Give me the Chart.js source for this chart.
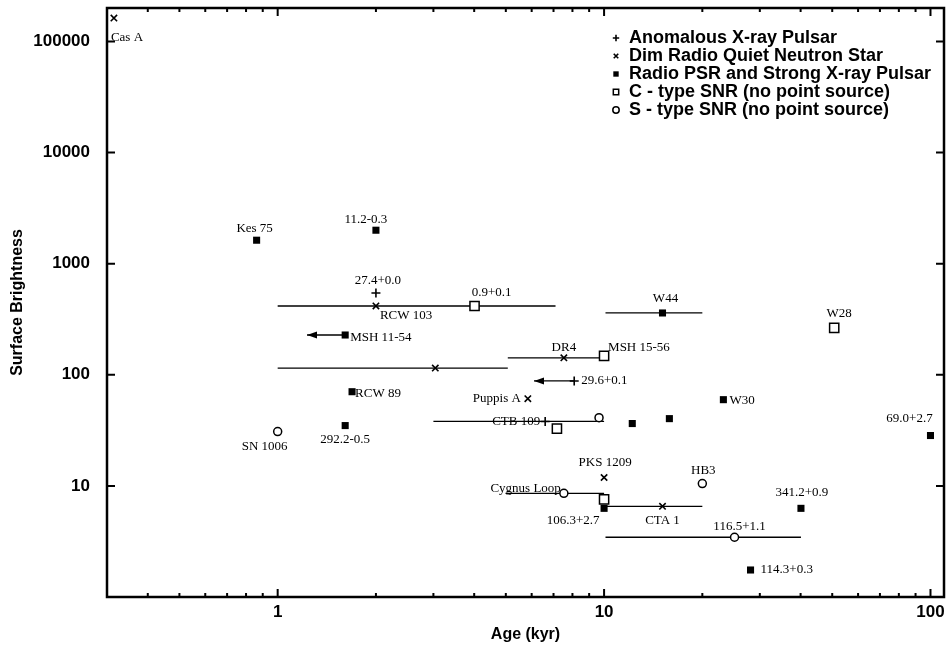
<!DOCTYPE html>
<html>
<head>
<meta charset="utf-8">
<title>Surface brightness vs age</title>
<script src="https://cdn.jsdelivr.net/npm/chart.js@4.4.1/dist/chart.umd.min.js"></script>
<style>
  html, body { margin: 0; padding: 0; background: #fff; }
  #wrap { width: 952px; height: 648px; }
</style>
</head>
<body>
<div id="wrap"><canvas id="sb-chart" width="952" height="648"></canvas></div>
<script>
// values: age in kyr, surface brightness (log-log)

// Anomalous X-ray Pulsar (+)
const axpNames  = ['27.4+0.0', '29.6+0.1', 'CTB 109'];
const axpAge    = [2.0, 8.1, 6.6];
const axpBright = [544, 88, 38];
const axpAgeLo  = [null, 6.1, 3.0];
const axpAgeHi  = [null, null, 10];

// Dim Radio Quiet Neutron Star (x)
const dimNames  = ['Cas A', 'RCW 103', '', 'Puppis A', 'DR4', 'PKS 1209', 'CTA 1'];
const dimAge    = [0.315, 2.0, 3.04, 5.84, 7.53, 10, 15.1];
const dimBright = [162500, 416, 115, 61, 142, 11.9, 6.55];
const dimAgeLo  = [null, 1.0, 1.0, null, 5.07, null, 10.1];
const dimAgeHi  = [null, 7.1, 5.07, null, 10.1, null, 20];

// Radio PSR and Strong X-ray Pulsar (filled square)
const psrNames  = ['Kes 75', '11.2-0.3', 'MSH 11-54', 'RCW 89', '292.2-0.5', 'W44', 'W30', '', '', '69.0+2.7', '106.3+2.7', '341.2+0.9', '114.3+0.3'];
const psrAge    = [0.862, 2.0, 1.61, 1.69, 1.61, 15.1, 23.2, 12.2, 15.85, 100, 10, 40.1, 28.1];
const psrBright = [1626, 2000, 228, 70.4, 34.9, 360, 59.7, 36.4, 40.3, 28.4, 6.28, 6.28, 1.75];
const psrAgeLo  = [null, null, 1.23, null, null, 10.1, null, null, null, null, null, null, null];
const psrAgeHi  = [null, null, null, null, null, 20, null, null, null, null, null, null, null];

// C - type SNR (open square)
const cNames  = ['0.9+0.1', 'MSH 15-56', 'W28', '', ''];
const cAge    = [4.01, 10, 50.7, 7.17, 10];
const cBright = [416, 148, 264, 32.8, 7.57];

// S - type SNR (open circle)
const sNames  = ['SN 1006', '', 'HB3', 'Cygnus Loop', '116.5+1.1'];
const sAge    = [1.0, 9.65, 20, 7.53, 25.1];
const sBright = [30.8, 41.1, 10.5, 8.57, 3.45];
const sAgeLo  = [null, null, null, 4.99, 10.1];
const sAgeHi  = [null, null, null, 10, 40.1];

const legendLabels = [
  'Anomalous X-ray Pulsar',
  'Dim Radio Quiet Neutron Star',
  'Radio PSR and Strong X-ray Pulsar',
  'C - type SNR (no point source)',
  'S - type SNR (no point source)'
];

const xTickValues = [1, 10, 100];
const yTickValues = [1, 10, 100, 1000, 10000, 100000];

// where each name sits relative to its marker (pixels)
const labelPos = {
  'Cas A': [-3, 20, 'left'],
  'Kes 75': [-2, -12, 'center'],
  '11.2-0.3': [-10, -11, 'center'],
  '27.4+0.0': [2, -12, 'center'],
  'RCW 103': [4, 10, 'left'],
  '0.9+0.1': [17, -13, 'center'],
  'MSH 11-54': [5, 3, 'left'],
  'RCW 89': [3, 2, 'left'],
  'Puppis A': [-7, 0, 'right'],
  'DR4': [0, -10, 'center'],
  'MSH 15-56': [4, -8, 'left'],
  '29.6+0.1': [7, 0, 'left'],
  'W44': [3, -14, 'center'],
  'W28': [5, -14, 'center'],
  'W30': [6, 1, 'left'],
  'CTB 109': [-5, 0, 'right'],
  '69.0+2.7': [-21, -17, 'center'],
  'PKS 1209': [1, -15, 'center'],
  'HB3': [1, -13, 'center'],
  'Cygnus Loop': [-3, -5, 'right'],
  '106.3+2.7': [-31, 12, 'center'],
  'CTA 1': [0, 14, 'center'],
  '116.5+1.1': [5, -11, 'center'],
  '341.2+0.9': [1, -16, 'center'],
  '114.3+0.3': [10, 0, 'left'],
  'SN 1006': [-13, 15, 'center'],
  '292.2-0.5': [0, 14, 'center']
};

function toPoints(ages, vals) {
  return ages.map((a, i) => ({ x: a, y: vals[i] }));
}

function emptyList(n) {
  return new Array(n).fill(null);
}

const datasets = [
  {
    label: legendLabels[0], data: toPoints(axpAge, axpBright), names: axpNames,
    ageLo: axpAgeLo, ageHi: axpAgeHi,
    pointStyle: 'cross', pointRadius: 4.5, borderWidth: 1.6,
    borderColor: '#000', backgroundColor: '#000'
  },
  {
    label: legendLabels[1], data: toPoints(dimAge, dimBright), names: dimNames,
    ageLo: dimAgeLo, ageHi: dimAgeHi,
    pointStyle: 'crossRot', pointRadius: 4.5, borderWidth: 1.6,
    borderColor: '#000', backgroundColor: '#000'
  },
  {
    label: legendLabels[2], data: toPoints(psrAge, psrBright), names: psrNames,
    ageLo: psrAgeLo, ageHi: psrAgeHi,
    pointStyle: 'rect', pointRadius: 5, borderWidth: 0,
    borderColor: '#000', backgroundColor: '#000'
  },
  {
    label: legendLabels[3], data: toPoints(cAge, cBright), names: cNames,
    ageLo: emptyList(cAge.length), ageHi: emptyList(cAge.length),
    pointStyle: 'rect', pointRadius: 6.5, borderWidth: 1.5,
    borderColor: '#000', backgroundColor: '#fff'
  },
  {
    label: legendLabels[4], data: toPoints(sAge, sBright), names: sNames,
    ageLo: sAgeLo, ageHi: sAgeHi,
    pointStyle: 'circle', pointRadius: 4, borderWidth: 1.5,
    borderColor: '#000', backgroundColor: '#fff'
  }
];

// horizontal age ranges and upper-limit arrows, under the markers
const ageBars = {
  id: 'ageBars',
  beforeDatasetsDraw(chart) {
    const { ctx, scales: { x, y } } = chart;
    ctx.save();
    ctx.strokeStyle = '#000';
    ctx.fillStyle = '#000';
    ctx.lineWidth = 1.3;
    chart.data.datasets.forEach(ds => {
      ds.data.forEach((p, i) => {
        const lo = ds.ageLo[i], hi = ds.ageHi[i];
        if (lo == null) return;
        const py = y.getPixelForValue(p.y);
        const xl = x.getPixelForValue(lo);
        const xr = x.getPixelForValue(hi == null ? p.x : hi);
        ctx.beginPath();
        ctx.moveTo(xl, py);
        ctx.lineTo(xr, py);
        ctx.stroke();
        if (hi == null) {
          ctx.beginPath();
          ctx.moveTo(xl, py);
          ctx.lineTo(xl + 10, py - 3.5);
          ctx.lineTo(xl + 10, py + 3.5);
          ctx.closePath();
          ctx.fill();
        }
      });
    });
    ctx.restore();
  }
};

// names next to markers
const pointNames = {
  id: 'pointNames',
  afterDatasetsDraw(chart) {
    const { ctx, scales: { x, y } } = chart;
    ctx.save();
    ctx.fillStyle = '#000';
    ctx.font = '13px "Liberation Serif", "Times New Roman", serif';
    ctx.textBaseline = 'middle';
    chart.data.datasets.forEach(ds => {
      ds.data.forEach((p, i) => {
        const name = ds.names[i];
        if (!name || !labelPos[name]) return;
        const [dx, dy, align] = labelPos[name];
        ctx.textAlign = align;
        ctx.fillText(name, x.getPixelForValue(p.x) + dx, y.getPixelForValue(p.y) + dy);
      });
    });
    ctx.restore();
  }
};

// box frame with inward ticks on all four sides
const frameTicks = {
  id: 'frameTicks',
  afterDatasetsDraw(chart) {
    const { ctx, chartArea: a, scales: { x, y } } = chart;
    ctx.save();
    ctx.strokeStyle = '#000';
    ctx.lineWidth = 2.5;
    ctx.strokeRect(a.left, a.top, a.right - a.left, a.bottom - a.top);
    ctx.lineWidth = 2;
    ctx.beginPath();
    for (let d = -1; d <= 2; d++) {
      for (let k = 1; k <= 9; k++) {
        const v = k * Math.pow(10, d);
        if (v < x.min || v > x.max) continue;
        const px = x.getPixelForValue(v);
        const len = k === 1 ? 8 : 4;
        ctx.moveTo(px, a.bottom); ctx.lineTo(px, a.bottom - len);
        ctx.moveTo(px, a.top); ctx.lineTo(px, a.top + len);
      }
    }
    yTickValues.forEach(v => {
      const py = y.getPixelForValue(v);
      ctx.moveTo(a.left, py); ctx.lineTo(a.left + 8, py);
      ctx.moveTo(a.right, py); ctx.lineTo(a.right - 8, py);
    });
    ctx.stroke();
    ctx.restore();
  }
};

// legend inside the plot, top right
const boxLegend = {
  id: 'boxLegend',
  afterDraw(chart) {
    const { ctx, chartArea: a } = chart;
    const symX = a.right - 328, textX = a.right - 315;
    ctx.save();
    ctx.font = 'bold 18px "Liberation Sans", Arial, sans-serif';
    ctx.textBaseline = 'middle';
    ctx.textAlign = 'left';
    chart.data.datasets.forEach((ds, i) => {
      const ly = a.top + 30 + i * 18;
      ctx.fillStyle = ds.backgroundColor;
      ctx.strokeStyle = '#000';
      ctx.lineWidth = ds.borderWidth || 1;
      const r = ds.pointStyle === 'rect' ? 3.8 : 3.2;
      Chart.helpers.drawPoint(ctx, {
        pointStyle: ds.pointStyle, radius: r, rotation: 0,
        borderWidth: ds.borderWidth
      }, symX, ly);
      ctx.fillStyle = '#000';
      ctx.fillText(ds.label, textX, ly);
    });
    ctx.restore();
  }
};

const tickFont = { family: '"Liberation Sans", Arial, sans-serif', size: 17, weight: 'bold' };
const titleFont = { family: '"Liberation Sans", Arial, sans-serif', size: 16, weight: 'bold' };

new Chart(document.getElementById('sb-chart'), {
  type: 'scatter',
  data: { datasets: datasets },
  options: {
    responsive: false,
    animation: false,
    devicePixelRatio: 1,
    layout: { padding: { top: 6, right: 8, left: 0, bottom: 0 } },
    plugins: {
      legend: { display: false },
      tooltip: { enabled: false }
    },
    scales: {
      x: {
        type: 'logarithmic',
        min: 0.3,
        max: 110,
        grid: { display: false, drawTicks: false },
        border: { display: false },
        afterBuildTicks: s => { s.ticks = xTickValues.map(v => ({ value: v })); },
        afterFit: s => { s.height = 51; s.paddingLeft = 0; s.paddingRight = 0; },
        ticks: {
          color: '#000', font: tickFont, padding: 5, maxRotation: 0, autoSkip: false,
          callback: v => String(v)
        },
        title: {
          display: true, text: 'Age (kyr)', color: '#000', font: titleFont,
          padding: { top: 0, bottom: 4 }
        }
      },
      y: {
        type: 'logarithmic',
        min: 1,
        max: 200000,
        grid: { display: false, drawTicks: false },
        border: { display: false },
        afterBuildTicks: s => { s.ticks = yTickValues.filter(v => v >= 10).map(v => ({ value: v })); },
        afterFit: s => { s.width = 107; s.paddingTop = 0; s.paddingBottom = 0; },
        ticks: {
          color: '#000', font: tickFont, padding: 17, autoSkip: false,
          callback: v => String(v)
        },
        title: {
          display: true, text: 'Surface Brightness', color: '#000', font: titleFont,
          padding: { top: 8, bottom: 0 }
        }
      }
    }
  },
  plugins: [ageBars, pointNames, frameTicks, boxLegend]
});
</script>
</body>
</html>
